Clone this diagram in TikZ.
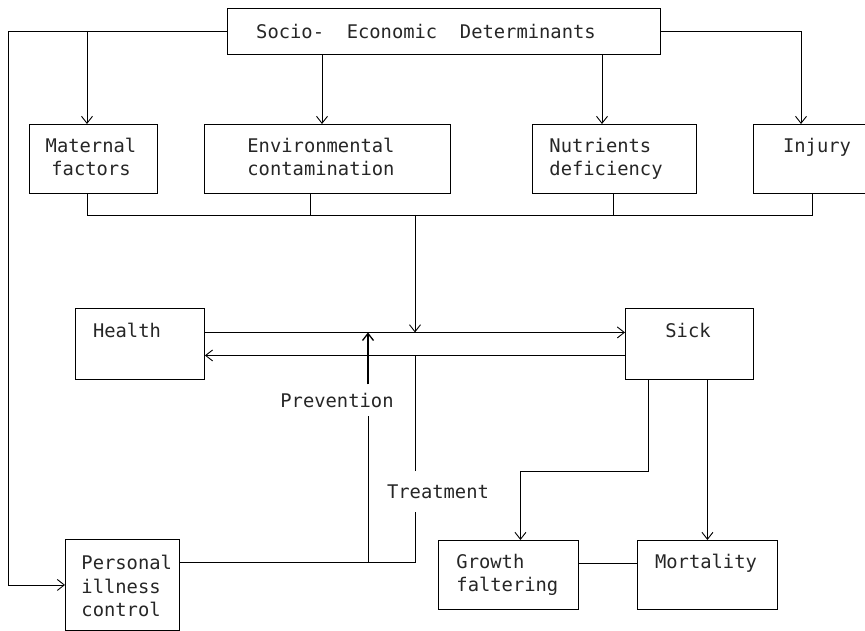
\documentclass[tikz,border=0pt]{standalone}
\usepackage{fontspec}
\setmonofont{DejaVu Sans Mono}
\usetikzlibrary{arrows.meta}

\begin{document}
\begin{tikzpicture}[x=1pt,y=-1pt,line width=0.9pt,
  >={Straight Barb[length=7pt,width=11pt]},
  box/.style={draw,anchor=north west,inner sep=0pt},
  txt/.style={font=\ttfamily\fontsize{18.8}{23.5}\selectfont,text=black!85,inner sep=0pt,align=left}]
  \useasboundingbox (0,0) rectangle (865,631);

  %boxes
  \node[box,minimum width=433pt,minimum height=46pt] (soc) at (227,8) {};
  \node[box,minimum width=128pt,minimum height=69pt] (mat) at (29,124) {};
  \node[box,minimum width=246pt,minimum height=69pt] (env) at (204,124) {};
  \node[box,minimum width=164pt,minimum height=69pt] (nut) at (532,124) {};
  \node[box,minimum width=115pt,minimum height=69pt] (inj) at (753,124) {};
  \node[box,minimum width=129pt,minimum height=71pt] (health) at (75,308) {};
  \node[box,minimum width=128pt,minimum height=71pt] (sick) at (625,308) {};
  \node[box,minimum width=114pt,minimum height=91pt] (pers) at (65,539) {};
  \node[box,minimum width=140pt,minimum height=69pt] (grow) at (438,540) {};
  \node[box,minimum width=140pt,minimum height=69pt] (mort) at (637,540) {};

  %texts
  \node[txt] (soc-t) at (426,31) {Socio- \ Economic \ Determinants};
  \node[txt,align=center] (mat-t) at (91,157) {Maternal\\factors};
  \node[txt,align=center] (env-t) at (321,157) {Environmental\\contamination};
  \node[txt,anchor=west] (nut-t) at (549,159) {Nutrients\\deficiency};
  \node[txt] (inj-t) at (817,147.5) {Injury};
  \node[txt] (health-t) at (127,330) {Health};
  \node[txt] (sick-t) at (688,330) {Sick};
  \node[txt,anchor=west] (pers-t) at (81,586) {Personal\\illness\\control};
  \node[txt,anchor=west] (grow-t) at (456,575) {Growth\\faltering};
  \node[txt] (mort-t) at (706,563) {Mortality};
  \node[txt,inner ysep=8pt] (prev) at (337,400) {Prevention};
  \node[txt,inner ysep=13pt] (treat) at (438,491.5) {Treatment};

  %junctions
  \coordinate (edge) at (8,0);
  \coordinate (jl) at (87,31);
  \coordinate (ea) at (322,0);
  \coordinate (na) at (602,0);
  \coordinate (ia) at (801,0);
  \coordinate (busl) at (87,215);
  \coordinate (busr) at (812,215);
  \coordinate (bus) at (415,215);
  \coordinate (pvx) at (368,0);
  \coordinate (sg) at (648,471);
  \coordinate (hs) at ([yshift=11.5pt]health.east);
  \coordinate (sh) at ([yshift=-11.5pt]health.east);
  \coordinate (pl) at ([yshift=22.5pt]pers.east);

  %from the determinants
  \draw[->] (soc.west) -| (edge |- pers.west) -- (pers.west);
  \draw[->] (jl) -- (jl |- mat.north);
  \draw[->] (ea |- soc.south) -- (ea |- env.north);
  \draw[->] (na |- soc.south) -- (na |- nut.north);
  \draw[->] (soc.east) -| (ia |- inj.north);

  %collecting line
  \draw (busl |- mat.south) -- (busl) -- (busr) -- (busr |- inj.south);
  \draw ([xshift=-17pt]env.south) -- ++(0,22);
  \draw ([xshift=-1pt]nut.south) -- ++(0,22);
  \draw[->] (bus) -- (bus |- hs);

  %health and sick
  \draw[->] (hs) -- (hs -| sick.west);
  \draw[->] (sh -| sick.west) -- (sh);

  %prevention and treatment
  \draw (pl) -- (bus |- pl) -- (bus |- treat.south);
  \draw (bus |- treat.north) -- (bus |- sh);
  \draw (pvx |- pl) -- (pvx |- prev.south);
  \draw[->,line width=1.3pt] (pvx |- prev.north) -- (pvx |- hs);

  %outcomes
  \draw[->] (sg |- sick.south) -- (sg) -| ([xshift=12pt]grow.north);
  \draw[->] (mort.north |- sick.south) -- (mort.north);
  \draw ([yshift=11.5pt]grow.east) -- ([yshift=11.5pt]grow.east -| mort.west);
\end{tikzpicture}
\end{document}
